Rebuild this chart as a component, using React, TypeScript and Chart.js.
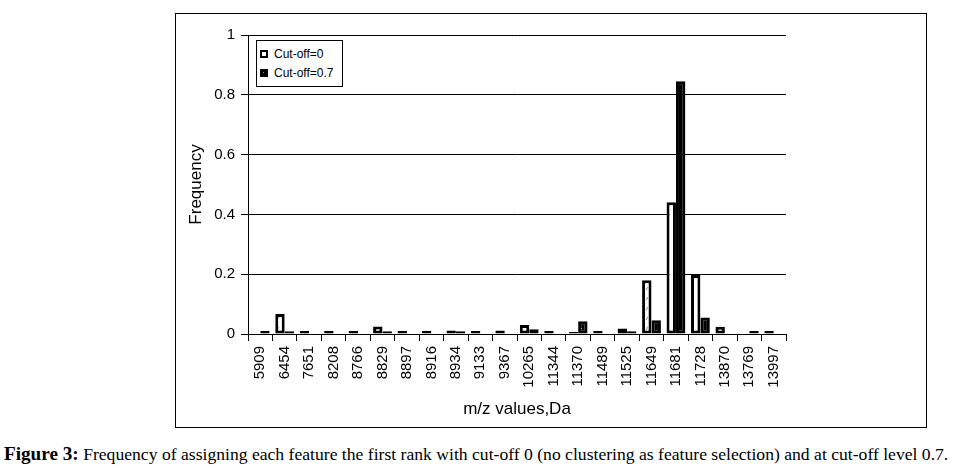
import React, { useEffect, useRef } from "react";
import { Chart, registerables } from "chart.js";

Chart.register(...registerables);

const categories = ["5909", "6454", "7651", "8208", "8766", "8829", "8897", "8916", "8934", "9133", "9367", "10265", "11344", "11370", "11489", "11525", "11649", "11681", "11728", "13870", "13769", "13997"];
const cutoff0 = [0, 0.067, 0.01, 0.01, 0.01, 0.025, 0.01, 0.01, 0.012, 0.01, 0.012, 0.03, 0.01, 0.007, 0.01, 0.018, 0.18, 0.441, 0.197, 0.024, 0, 0.01];
const cutoff07 = [0.01, 0.009, 0, 0, 0, 0.009, 0, 0, 0.009, 0, 0, 0.016, 0, 0.043, 0, 0.009, 0.046, 0.845, 0.055, 0, 0.01, 0];
const seriesNames = ["Cut-off=0", "Cut-off=0.7"];
const yTitle = "Frequency";
const xTitle = "m/z values,Da";

const SANS = "Arial, 'Liberation Sans', sans-serif";

function makePattern(bg: string, w: number, h: number, draw: (c: CanvasRenderingContext2D) => void) {
  const cv = document.createElement("canvas");
  cv.width = w;
  cv.height = h;
  const c = cv.getContext("2d")!;
  c.fillStyle = bg;
  c.fillRect(0, 0, w, h);
  draw(c);
  return c.createPattern(cv, "repeat")!;
}

export default function App() {
  const canvasRef = useRef<HTMLCanvasElement | null>(null);
  const capRef = useRef<HTMLDivElement | null>(null);

  useEffect(() => {
    document.body.style.margin = "0";
    const whitePat = makePattern("#ffffff", 9, 10, (c) => {
      c.strokeStyle = "#8a8a8a";
      c.lineWidth = 1;
      c.beginPath();
      c.moveTo(2, 6);
      c.lineTo(4, 3);
      c.stroke();
    });
    const blackPat = makePattern("#000000", 6, 6, (c) => {
      c.fillStyle = "#a0a0a0";
      c.fillRect(3, 2, 1, 1);
    });
    const chart = new Chart(canvasRef.current!, {
      type: "bar",
      data: {
        labels: categories,
        datasets: [
          {
            label: seriesNames[0],
            data: cutoff0,
            backgroundColor: whitePat as any,
            borderColor: "#000",
            borderWidth: 3,
            borderSkipped: false,
            categoryPercentage: 0.77,
            barPercentage: 1,
          },
          {
            label: seriesNames[1],
            data: cutoff07,
            backgroundColor: blackPat as any,
            borderColor: "#000",
            borderWidth: 3,
            borderSkipped: false,
            categoryPercentage: 0.77,
            barPercentage: 1,
          },
        ],
      },
      options: {
        animation: false,
        responsive: false,
        maintainAspectRatio: false,
        layout: { padding: { top: 21, right: 140, left: 0, bottom: 0 } },
        plugins: { legend: { display: false }, tooltip: { enabled: false } },
        scales: {
          x: {
            offset: true,
            afterFit: (s: any) => {
              s.height = 93;
            },
            grid: {
              offset: true,
              drawOnChartArea: false,
              drawTicks: true,
              tickLength: 7,
              color: "#000",
            },
            border: { color: "#000", width: 1 },
            ticks: {
              minRotation: 90,
              maxRotation: 90,
              autoSkip: false,
              padding: 5,
              color: "#000",
              font: { family: SANS, size: 15 },
            },
            title: {
              display: true,
              text: xTitle,
              color: "#000",
              font: { family: SANS, size: 17 },
              padding: { top: 0, bottom: 7 },
            },
          },
          y: {
            min: 0,
            max: 1,
            afterFit: (s: any) => {
              s.width = 72;
            },
            grid: { color: "#000", tickLength: 7, lineWidth: 1 },
            border: { color: "#000", width: 1 },
            ticks: {
              stepSize: 0.2,
              padding: 6,
              color: "#000",
              font: { family: SANS, size: 15 },
              callback: (v: any) => String(Number(Number(v).toFixed(1))),
            },
            title: {
              display: true,
              text: yTitle,
              color: "#000",
              font: { family: SANS, size: 17 },
              padding: { top: 10, bottom: 0 },
            },
          },
        },
      },
    });

    const cap = capRef.current;
    if (cap) {
      const w = cap.scrollWidth;
      if (w > 0) cap.style.transform = `scaleX(${944 / w})`;
    }
    return () => chart.destroy();
  }, []);

  const legendRow = (filled: boolean, text: string, top: number) => (
    <div style={{ position: "absolute", left: 3, top, height: 16, display: "flex", alignItems: "center" }}>
      <div
        style={{
          width: 8,
          height: 8,
          boxSizing: "border-box",
          border: "2.5px solid #000",
          background: filled ? "#000" : "#fff",
          position: "relative",
        }}
      >
        {filled && (
          <div style={{ position: "absolute", left: 1, top: 1, width: 1, height: 1, background: "#999" }} />
        )}
      </div>
      <span style={{ marginLeft: 6, fontFamily: SANS, fontSize: 12, color: "#000", whiteSpace: "nowrap" }}>{text}</span>
    </div>
  );

  return (
    <div style={{ position: "relative", width: 953, height: 476, background: "#fff", overflow: "hidden" }}>
      <div
        style={{
          position: "absolute",
          left: 175,
          top: 13,
          width: 752,
          height: 415,
          border: "1px solid #000",
          boxSizing: "border-box",
        }}
      >
        <canvas ref={canvasRef} width={750} height={413} style={{ display: "block", width: 750, height: 413 }} />
      </div>
      <div
        style={{
          position: "absolute",
          left: 256,
          top: 40,
          width: 87,
          height: 47,
          border: "1px solid #000",
          boxSizing: "border-box",
          background: "#fff",
        }}
      >
        {legendRow(false, seriesNames[0], 5)}
        {legendRow(true, seriesNames[1], 24)}
      </div>
      <div
        ref={capRef}
        style={{
          position: "absolute",
          left: 4,
          top: 443,
          whiteSpace: "nowrap",
          transformOrigin: "0 0",
          fontFamily: "'Liberation Serif', 'Times New Roman', serif",
          fontSize: 17,
          color: "#000",
          lineHeight: "22px",
        }}
      >
        <b style={{ fontSize: 18.5 }}>Figure 3:</b> Frequency of assigning each feature the first rank with cut-off 0 (no clustering as feature selection) and at cut-off level 0.7.
      </div>
    </div>
  );
}
